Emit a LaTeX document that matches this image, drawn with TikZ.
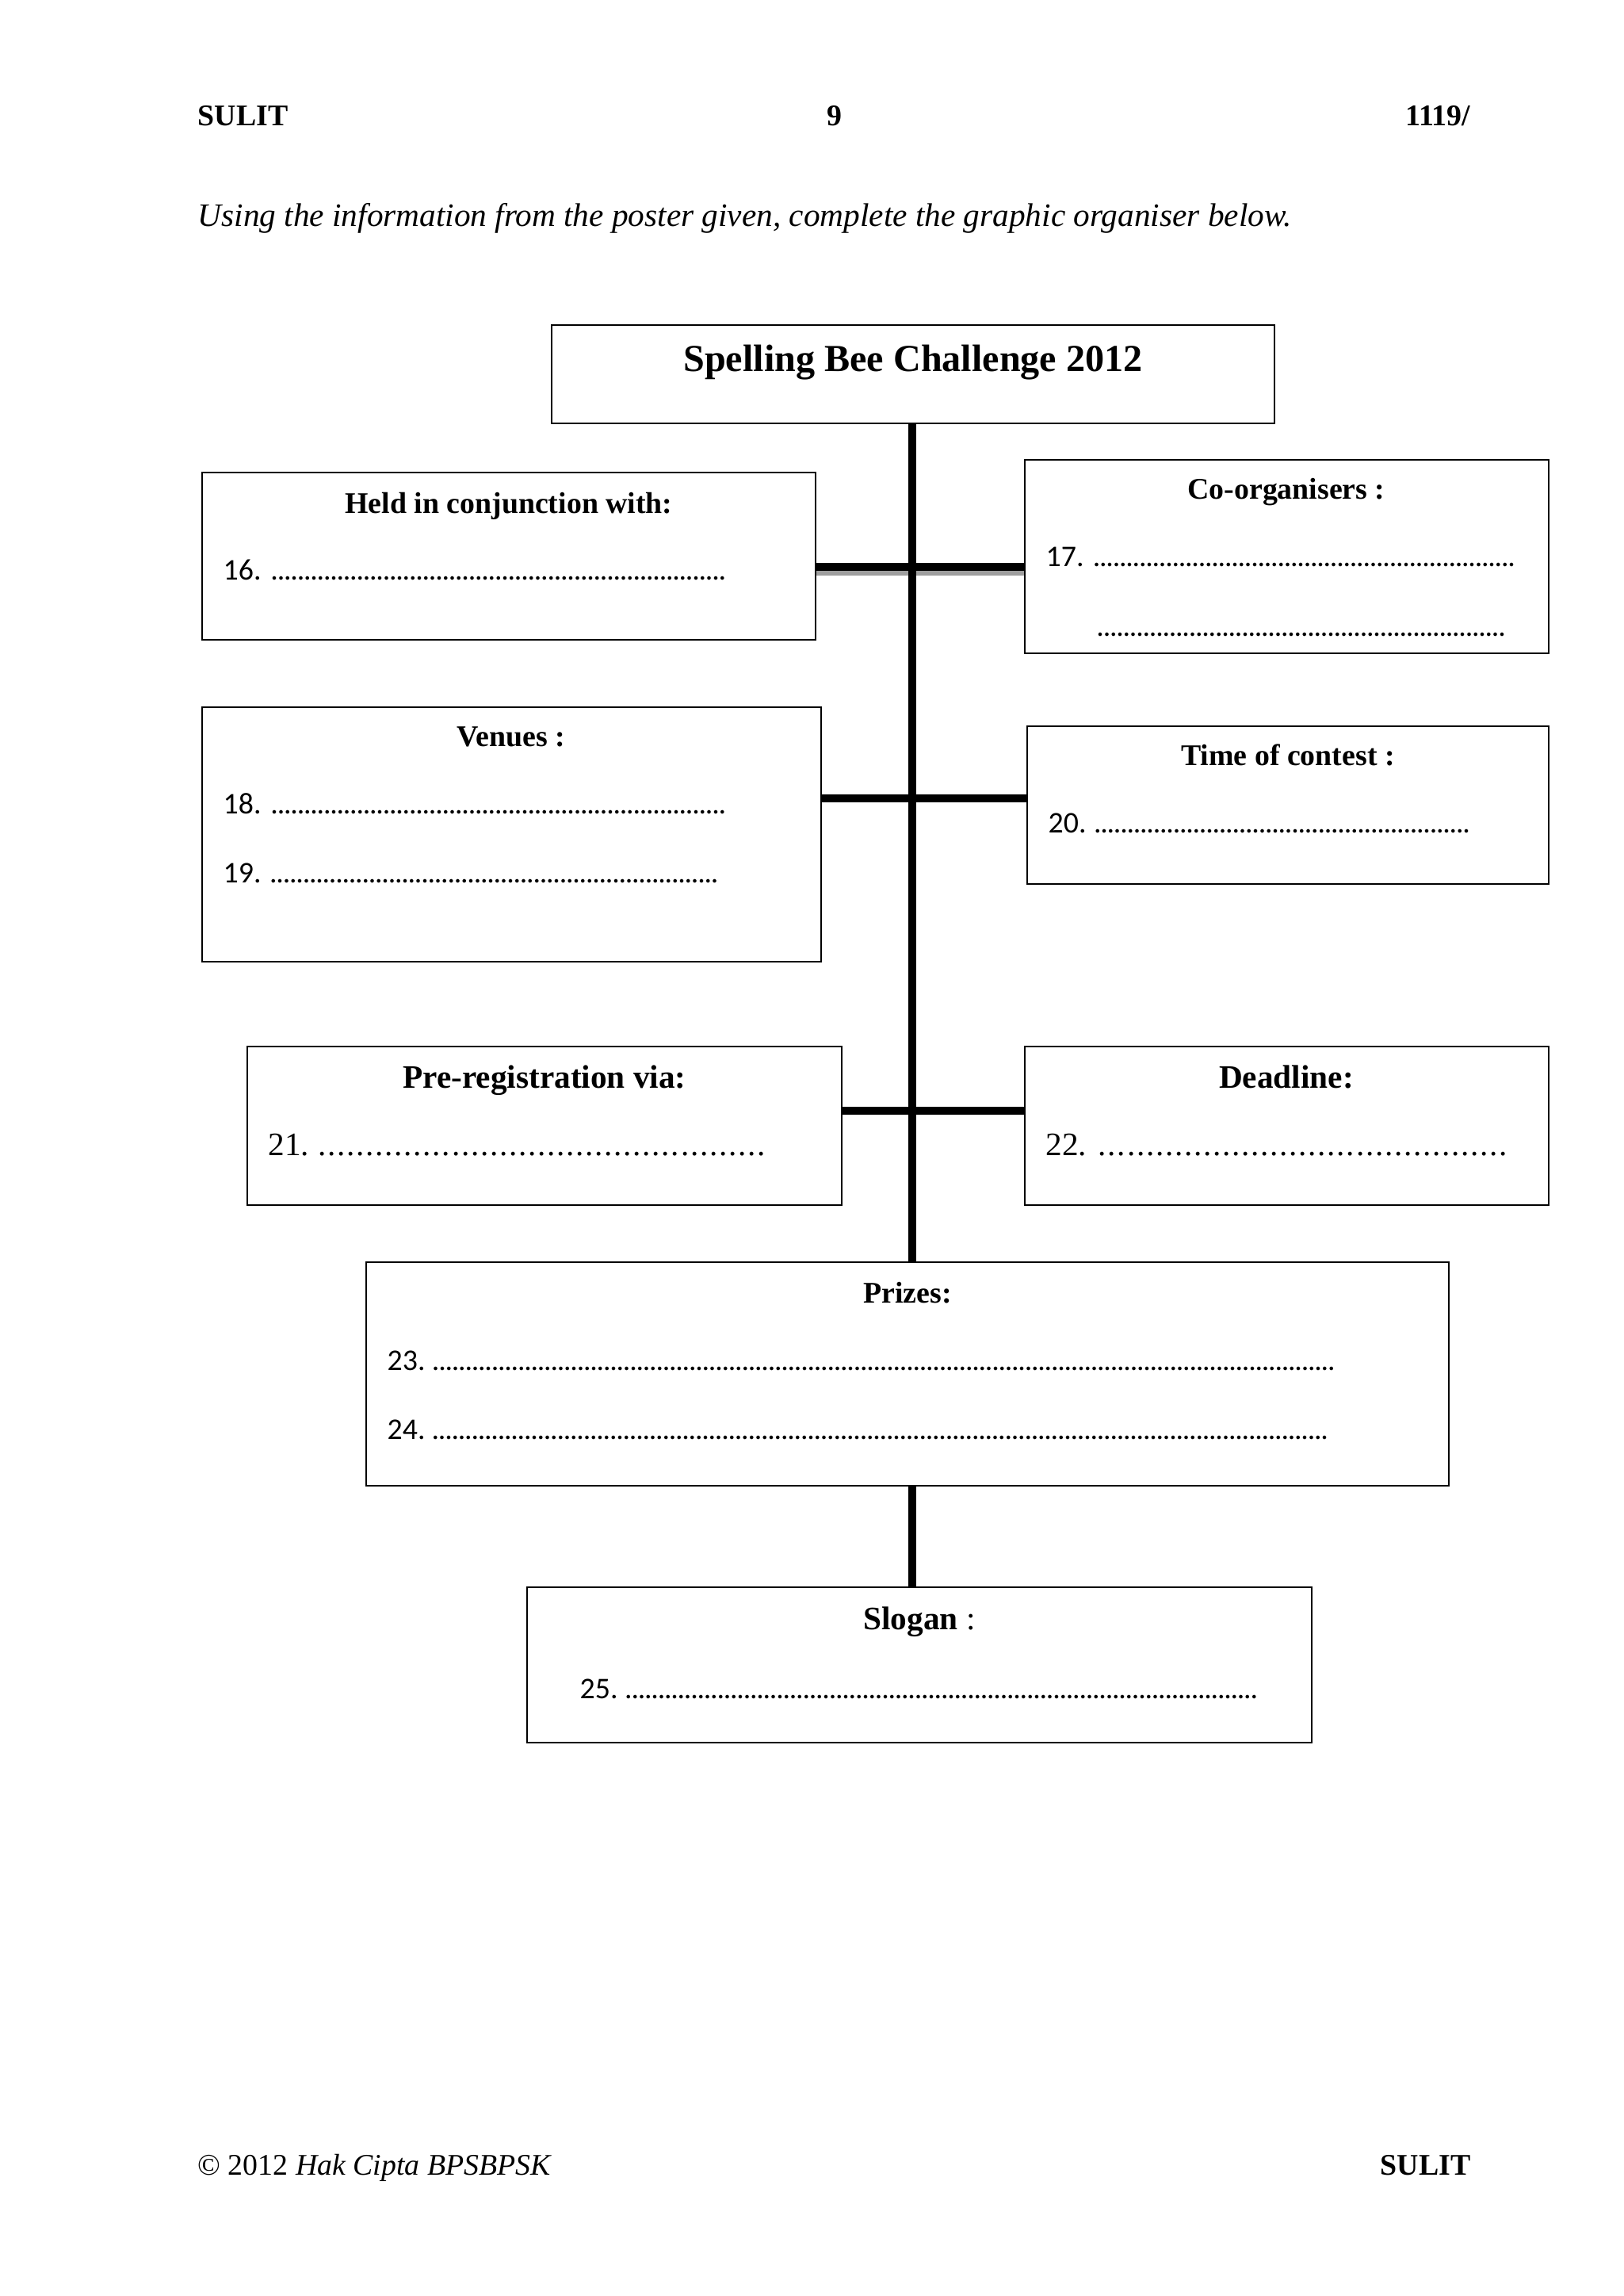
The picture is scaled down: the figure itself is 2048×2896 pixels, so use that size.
\documentclass[tikz,border=0pt]{standalone}
\usepackage{fontspec}
\setmainfont{Liberation Serif}
\newfontfamily\calibri{Carlito}
\usetikzlibrary{fit}
\newcommand\dotline[3]{\hbox to #1{#2\ \cleaders\hbox to #3{\hss.\hss}\hfill}}
\newcommand\dotsonly[2]{\hbox to #1{\cleaders\hbox to #2{\hss.\hss}\hfill}}
\begin{document}
\begin{tikzpicture}[x=0.29066pt,y=-0.29066pt,
  box/.style={draw, line width=0.7pt, inner sep=0pt},
  bar/.style={line width=2.9pt},
  graybar/.style={draw=black!38, line width=1.8pt},
  spine/.style={line width=2.9pt},
  txt/.style={inner sep=0pt, font=\fontsize{12}{14}\selectfont},
  pagetxt/.style={inner sep=0pt, font=\fontsize{11}{13}\selectfont},
  head/.style={txt, anchor=base, font=\fontsize{11}{13}\selectfont\bfseries},
  headl/.style={txt, anchor=base, font=\fontsize{12}{14}\selectfont\bfseries},
  num/.style={inner sep=0pt, anchor=base west, font=\fontsize{11}{13}\selectfont\calibri},
  numserif/.style={inner sep=0pt, anchor=base west, font=\fontsize{12}{14}\selectfont}]
\fill[white] (0,0) rectangle (2048,2896);
\useasboundingbox (0,0) rectangle (2048,2896);

% header
\node[pagetxt, anchor=base west, font=\fontsize{11}{13}\selectfont\bfseries] (hl) at (249,158) {SULIT};
\node[pagetxt, anchor=base, font=\fontsize{11}{13}\selectfont\bfseries] (hc) at (1053,158) {9};
\node[pagetxt, anchor=base east, font=\fontsize{11}{13}\selectfont\bfseries] (hr) at (1856,158) {1119/};
\node[txt, anchor=base west, font=\fontsize{12}{14}\selectfont\itshape] (instr) at (249,285) {Using the information from the poster given, complete the graphic organiser below.};

% boxes
\coordinate (ta) at (696,410);  \coordinate (tb) at (1608,534);
\node[box, fit=(ta)(tb)] (title) {};
\coordinate (a16) at (255,596); \coordinate (b16c) at (1029,807);
\node[box, fit=(a16)(b16c)] (b16) {};
\coordinate (a17) at (1293,580); \coordinate (b17c) at (1954,824);
\node[box, fit=(a17)(b17c)] (b17) {};
\coordinate (a18) at (255,892); \coordinate (b18c) at (1036,1213);
\node[box, fit=(a18)(b18c)] (b18) {};
\coordinate (a20) at (1296,916); \coordinate (b20c) at (1954,1115);
\node[box, fit=(a20)(b20c)] (b20) {};
\coordinate (a21) at (312,1320); \coordinate (b21c) at (1062,1520);
\node[box, fit=(a21)(b21c)] (b21) {};
\coordinate (a22) at (1293,1320); \coordinate (b22c) at (1954,1520);
\node[box, fit=(a22)(b22c)] (b22) {};
\coordinate (ap) at (462,1592); \coordinate (bp) at (1828,1874);
\node[box, fit=(ap)(bp)] (prizes) {};
\coordinate (as) at (665,2002); \coordinate (bs) at (1655,2198);
\node[box, fit=(as)(bs)] (slogan) {};

% junctions
\coordinate (j1) at (1151,715);
\coordinate (g1) at (1151,723);
\coordinate (j2) at (1151,1007);
\coordinate (j3) at (1151,1401);

% connectors
\draw[graybar] (g1 -| b16.east) -- (g1 -| b17.west);
\draw[bar] (j1 -| b16.east) -- (j1 -| b17.west);
\draw[bar] (j2 -| b18.east) -- (j2 -| b20.west);
\draw[bar] (j3 -| b21.east) -- (j3 -| b22.west);
\draw[spine] (j1 |- title.south) -- (j1 |- prizes.north);
\draw[spine] (j1 |- prizes.south) -- (j1 |- slogan.north);

% texts
\node[txt, anchor=base, font=\fontsize{14}{16}\selectfont\bfseries] (ttl) at (1152,468) {Spelling Bee Challenge 2012};

\node[head] (h16) at (642,647) {Held in conjunction with:};
\node[num] (l16) at (281,731) {\dotline{185.7pt}{16.}{2.42pt}};

\node[head] (h17) at (1623,629) {Co-organisers :};
\node[num] (l17) at (1319,714) {\dotline{173.2pt}{17.}{2.42pt}};
\node[num] (l17b) at (1381,802) {\dotsonly{151.4pt}{2.42pt}};

\node[head] (h18) at (645,941) {Venues :};
\node[num] (l18) at (281,1026) {\dotline{185.7pt}{18.}{2.42pt}};
\node[num] (l19) at (281,1113) {\dotline{182.5pt}{19.}{2.42pt}};

\node[head] (h20) at (1625,965) {Time of contest :};
\node[num] (l20) at (1322,1050) {\dotline{155.2pt}{20.}{2.42pt}};

\node[headl] (h21) at (687,1372) {Pre-registration via:};
\node[numserif] (l21) at (338,1457) {\dotline{182.5pt}{21.}{3.5pt}};

\node[headl] (h22) at (1623,1372) {Deadline:};
\node[numserif] (l22) at (1319,1457) {\dotline{170.5pt}{22.}{3.5pt}};

\node[head] (h23) at (1145,1643) {Prizes:};
\node[num] (l23) at (488,1728) {\dotline{348.2pt}{23.}{2.42pt}};
\node[num] (l24) at (488,1815) {\dotline{345.6pt}{24.}{2.42pt}};

\node[txt, anchor=base] (h25) at (1160,2055) {\textbf{Slogan} :};
\node[num] (l25) at (731,2142) {\dotline{249.1pt}{25.}{2.42pt}};

% footer
\node[pagetxt, anchor=base west] (fl) at (249,2743) {© 2012 \textit{Hak Cipta BPSBPSK}};
\node[pagetxt, anchor=base east, font=\fontsize{11}{13}\selectfont\bfseries] (fr) at (1856,2743) {SULIT};
\end{tikzpicture}
\end{document}
